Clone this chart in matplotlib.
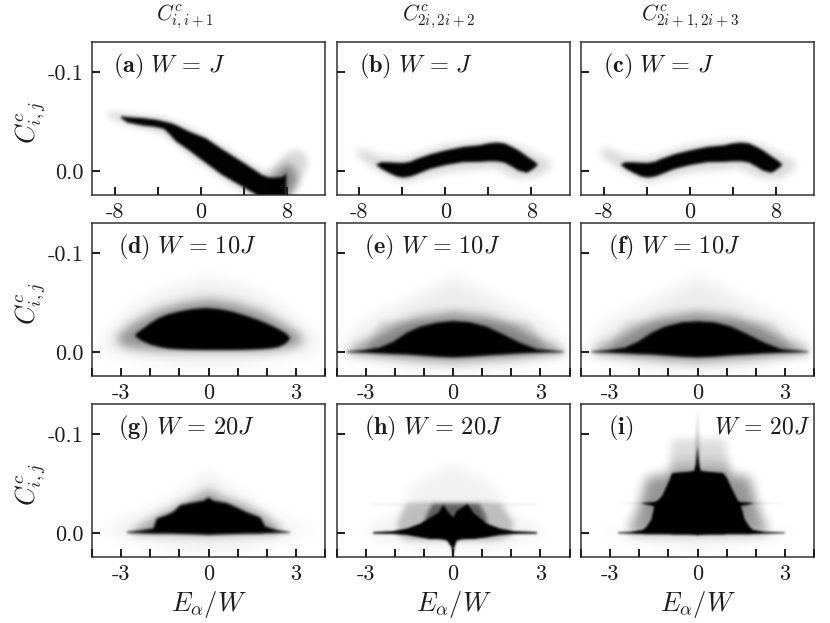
import numpy as np
import matplotlib
matplotlib.use('Agg')
import matplotlib.pyplot as plt
from matplotlib.patches import Rectangle

plt.rcParams['mathtext.fontset'] = 'cm'
plt.rcParams['font.family'] = ['cmr10', 'DejaVu Sans']
plt.rcParams['axes.unicode_minus'] = False

# envelopes: energy, upper edge, lower edge of each cloud
a_core_x = [-7.4, -6.8, -5.4, -4.2, -3.4, -2.8, -2.3, -1.1, 0.5, 2.0, 3.6, 5.1, 5.7, 6.4, 7.0, 7.6, 7.95]
a_core_top = [-.0555, -.0545, -.0535, -.052, -.050, -.0485, -.0465, -.040, -.033, -.022, -.011, -.0005, .004, .0065, .0065, .006, .002]
a_core_bot = [-.0535, -.049, -.046, -.0445, -.0425, -.036, -.030, -.021, -.008, .004, .014, .0235, .03, .03, .03, .03, .03]
a_mid_x = [6.4, 7.0, 7.6, 8.0, 8.5, 8.9]
a_mid_top = [.006, .002, -.004, -.008, -.004, .002]
a_mid_bot = [.03, .03, .03, .03, .02, .012]
a_halo_x = [-8.6, -6.8, -3.6, -1.1, 2.0, 5.1, 6.2, 7.0, 8.0, 9.0, 9.9]
a_halo_top = [-.0597, -.058, -.0547, -.0446, -.026, -.0044, .0007, -.0077, -.0178, -.0228, -.0144]
a_halo_bot = [-.0547, -.0463, -.038, -.016, .0074, .03, .03, .03, .03, .0158, -.0044]

b_core_x = [-6.4, -5.9, -5.2, -4.5, -3.9, -3.2, -2.7, -1.4, 0.1, 1.7, 3.2, 4.0, 4.8, 5.5, 6.2, 6.8, 7.6, 8.2, 8.6]
b_core_top = [-.0068, -.009, -.0088, -.0084, -.0082, -.0095, -.012, -.0168, -.021, -.0245, -.026, -.028, -.0288, -.028, -.0245, -.021, -.0148, -.0105, -.0068]
b_core_bot = [-.0062, -.002, .002, .0055, .0066, .0055, .0035, -.0022, -.0062, -.009, -.0092, -.0098, -.0098, -.0085, -.0045, -.0005, .0018, -.0022, -.0062]
b_halo_x = [-8.2, -7.0, -6.1, -3.9, 0.1, 4.5, 6.7, 8.5, 9.8]
b_halo_top = [-.023, -.0196, -.0145, -.0128, -.0264, -.0314, -.0264, -.0162, -.0095]
b_halo_bot = [-.016, -.006, .0007, .0118, .0007, -.0037, .0074, .0057, -.0027]

c_core_x = [-6.4, -5.9, -5.2, -4.5, -3.9, -3.2, -2.7, -1.4, 0.1, 1.7, 3.2, 4.0, 4.8, 5.5, 6.2, 6.8, 7.6, 8.2, 8.6]
c_core_top = [-.0068, -.009, -.0088, -.0084, -.0082, -.0095, -.012, -.017, -.021, -.0245, -.026, -.028, -.0288, -.028, -.0245, -.021, -.0148, -.0105, -.0068]
c_core_bot = [-.0062, -.002, .002, .0055, .0066, .0055, .0035, -.0022, -.0062, -.009, -.0092, -.0098, -.0098, -.0085, -.0045, -.0005, .0018, -.0022, -.0062]
c_halo_x = [-8.2, -7.0, -6.1, -3.9, 0.1, 4.5, 6.7, 8.5, 9.8]
c_halo_top = [-.024, -.0206, -.0145, -.0128, -.0264, -.0314, -.0264, -.0162, -.0095]
c_halo_bot = [-.015, -.006, .0007, .0118, .0007, -.0037, .0074, .0074, -.0027]

d_core_x = [-2.5, -2.3, -2.0, -1.73, -1.4, -1.04, -.6, -.13, .35, .79, 1.25, 1.71, 2.1, 2.4, 2.62, 2.78]
d_core_top = [-.0182, -.0225, -.029, -.034, -.038, -.0407, -.0432, -.0445, -.0435, -.041, -.037, -.0323, -.0275, -.0232, -.0195, -.0155]
d_core_bot = [-.0155, -.0115, -.0075, -.0054, -.0035, -.0027, -.0022, -.002, -.002, -.002, -.0022, -.0027, -.0035, -.005, -.008, -.0125]
d_mid_x = [-3.1, -2.6, -1.73, -.81, 0, .91, 1.82, 2.63, 3.2]
d_mid_top = [-.017, -.029, -.0424, -.0498, -.0532, -.0492, -.0407, -.0273, -.0165]
d_mid_bot = [-.0085, -.0035, -.0013, -.0013, -.0013, -.0013, -.0013, -.0035, -.0085]
d_halo_x = [-3.68, -2.88, -1.96, -.93, 0, 1.02, 2.05, 3.08, 3.77]
d_halo_top = [-.0104, -.0374, -.0559, -.0677, -.0727, -.0677, -.0542, -.0323, -.0121]
d_halo_bot = [.0, .003, .008, .012, .013, .012, .008, .003, .0]

e_core_x = [-3.65, -3.08, -2.5, -2.05, -1.59, -1.13, -.56, 0, .58, 1.16, 1.73, 2.3, 2.88, 3.8]
e_core_top = [-.0007, -.002, -.0047, -.0104, -.0195, -.0256, -.0296, -.0313, -.03, -.0256, -.0178, -.0094, -.003, -.0007]
e_core_bot = [.0003, .0007, .0013, .002, .0024, .0034, .0047, .0054, .0047, .0034, .0024, .0013, .0007, .0003]
e_mid_x = [-3.54, -2.74, -1.94, -1.25, 0, 1.27, 2.19, 2.99, 3.79]
e_mid_top = [-.0037, -.0138, -.0273, -.035, -.0407, -.0357, -.0256, -.0121, -.0027]
e_mid_bot = [.0013, .003, .0054, .0074, .0098, .0074, .0054, .003, .0013]
e_band_x = [-2.9, -2.5, 2.6, 3.1]
e_band_top = [-.01, -.031, -.031, -.01]
e_band_bot = [.002, .004, .004, .002]
e_halo_x = [-3.88, -3.08, -1.94, -1.02, 0, 1.04, 1.96, 3.1, 3.96]
e_halo_top = [-.002, -.0306, -.0458, -.0593, -.0761, -.0609, -.0458, -.0306, -.002]
e_halo_bot = [.0013, .0064, .0148, .0182, .0189, .0182, .0148, .0064, .0013]

f_core_x = [-3.65, -3.08, -2.5, -2.05, -1.59, -1.13, -.56, 0, .58, 1.16, 1.73, 2.3, 2.88, 3.8]
f_core_top = [-.0007, -.002, -.0044, -.0104, -.0192, -.0256, -.0299, -.031, -.03, -.0256, -.0178, -.0094, -.003, -.0007]
f_core_bot = [.0003, .0007, .0013, .002, .0024, .0034, .0047, .0054, .0047, .0034, .0024, .0013, .0007, .0003]
f_mid_x = [-3.54, -2.74, -1.94, -1.25, 0, 1.27, 2.19, 2.99, 3.79]
f_mid_top = [-.0037, -.0138, -.0273, -.035, -.0407, -.0357, -.0256, -.0121, -.0027]
f_mid_bot = [.0013, .003, .0054, .0074, .0098, .0074, .0054, .003, .0013]
f_band_x = [-2.9, -2.5, 2.6, 3.1]
f_band_top = [-.01, -.031, -.031, -.01]
f_band_bot = [.002, .004, .004, .002]
f_halo_x = [-3.88, -3.08, -1.94, -1.02, 0, 1.04, 1.96, 3.1, 3.96]
f_halo_top = [-.002, -.0306, -.0458, -.0593, -.0761, -.0609, -.0458, -.0306, -.002]
f_halo_bot = [.0013, .0064, .0148, .0182, .0189, .0182, .0148, .0064, .0013]

g_core_x = [-2.8, -2.35, -1.89, -1.78, -1.5, -1.2, -.97, -.52, -.17, 0, .17, .63, .97, 1.32, 1.78, 1.95, 2.35, 2.8]
g_core_top = [-.0013, -.0027, -.0047, -.0148, -.0175, -.0215, -.0283, -.031, -.0327, -.036, -.0327, -.0303, -.0259, -.0209, -.0158, -.0067, -.003, -.001]
g_core_bot = [.0, .0003, .0007, .0007, .0007, .0007, .001, .0013, .0017, .002, .0017, .0013, .001, .0007, .0007, .0003, .0, .0]
g_mid_x = [-2.58, -1.78, -1.09, -.52, 0, .52, 1.2, 1.89, 2.46]
g_mid_top = [-.004, -.0175, -.0276, -.036, -.0444, -.036, -.0293, -.0192, -.0057]
g_mid_bot = [.0007, .0013, .0017, .002, .0027, .002, .0017, .0013, .0007]
g_halo_x = [-3.72, -2.92, -1.78, -.97, -.4, 0, .4, 1.09, 1.89, 2.81, 3.72]
g_halo_top = [-.0013, -.0125, -.0242, -.0394, -.0512, -.063, -.0512, -.0394, -.0226, -.0091, -.0013]
g_halo_bot = [.0007, .0027, .0094, .0145, .0168, .0178, .0168, .0145, .0094, .0027, .0007]

h_core_x = [-2.74, -2.05, -1.59, -1.13, -.79, -.5, -.33, -.2, -.05, 0, .05, .13, .3, .5, .7, 1.16, 1.62, 2.07, 2.88]
h_core_top = [-.001, -.002, -.0045, -.0095, -.0155, -.0205, -.0285, -.0225, -.0175, -.016, -.0175, -.0225, -.0255, -.0293, -.0205, -.0095, -.0045, -.002, -.001]
h_core_bot = [.0007, .001, .002, .0044, .0061, .0061, .0067, .0077, .0145, .0256, .0145, .0077, .0064, .0061, .0061, .0044, .002, .001, .0007]
h_mid_x = [-1.9, -1.6, -.9, 1.16, 1.65, 2.05]
h_mid_top = [-.012, -.0295, -.0305, -.0305, -.0295, -.012]
h_mid_bot = [.002, .007, .008, .008, .007, .002]
h_inner_x = [-.95, -.7, .9, 1.15]
h_inner_top = [-.016, -.0295, -.0295, -.016]
h_inner_bot = [.0, .0, .0, .0]
h_band_x = [-2.8, 2.9]
h_band_top = [-.0303, -.0303]
h_band_bot = [-.0275, -.0275]
h_halo_x = [-3.08, -1.8, -1.36, 0, 1.38, 1.95, 3.1]
h_halo_top = [-.004, -.02, -.05, -.07, -.05, -.02, -.004]
h_halo_bot = [.002, .012, .016, .016, .016, .012, .002]

i_core_x = [-2.73, -2.27, -1.87, -1.74, -1.58, -1.5, -1.47, -1.21, -.95, -.87, -.32, -.11, -.05, 0, .05, .11, .37, .88, 1.0, 1.19, 1.45, 1.52, 1.62, 1.78, 1.9, 2.31, 3.0]
i_core_top = [-.0007, -.0013, -.0034, -.0067, -.014, -.025, -.0293, -.0377, -.0545, -.0606, -.0619, -.0629, -.0714, -.0882, -.0714, -.0629, -.0619, -.0606, -.0562, -.0444, -.0293, -.025, -.014, -.0067, -.0034, -.0013, -.0007]
i_core_bot = [.0003, .0007, .001, .0013, .0013, .0013, .0013, .0013, .0013, .0017, .0017, .002, .002, .0027, .002, .002, .0017, .0017, .0013, .0013, .0013, .0013, .0013, .0013, .001, .0007, .0003]
i_wing_x = [-1.9, -1.4, 1.4, 1.9]
i_wing_top = [-.0303, -.0315, -.0315, -.0303]
i_wing_bot = [-.0298, -.0265, -.0265, -.0298]
i_tail_x = [-2.73, -1.85, 1.85, 3.0]
i_tail_top = [-.0302, -.0306, -.0306, -.0302]
i_tail_bot = [-.0299, -.0295, -.0295, -.0299]
i_mid_x = [-1.95, -1.75, -1.0, 1.05, 1.8, 2.0]
i_mid_top = [-.032, -.056, -.06, -.06, -.056, -.032]
i_mid_bot = [-.024, -.024, -.024, -.024, -.024, -.024]
i_side_x = [-2.35, -2.0, -1.5, 1.5, 2.05, 2.4]
i_side_top = [-.004, -.027, -.027, -.027, -.027, -.004]
i_side_bot = [.0, .0, .0, .0, .0, .0]
i_top_x = [-.95, -.88, .95, 1.1]
i_top_top = [-.062, -.095, -.095, -.062]
i_top_bot = [-.055, -.055, -.055, -.055]
i_near_x = [-.92, 1.08]
i_near_top = [-.074, -.074]
i_near_bot = [-.055, -.055]
i_spike_x = [-.07, 0, .07]
i_spike_top = [-.09, -.127, -.09]
i_spike_bot = [-.07, -.07, -.07]
i_halo_x = [-3.3, -1.4, 0, 1.4, 3.3]
i_halo_top = [-.002, -.002, -.002, -.002, -.002]
i_halo_bot = [.001, .012, .016, .012, .001]

panel_labels = ['(a)', '(b)', '(c)', '(d)', '(e)', '(f)', '(g)', '(h)', '(i)']
panel_w = ['J', 'J', 'J', '10J', '10J', '10J', '20J', '20J', '20J']
col_titles = [r'$C^c_{i,i+1}$', r'$C^c_{2i,2i+2}$', r'$C^c_{2i+1,2i+3}$']
row1_ticks = [-8, -4, 0, 4, 8]
row1_labels = ['-8', '', '0', '', '8']
other_ticks = [-4, -3, -2, -1, 0, 1, 2, 3, 4]
other_labels = ['', '-3', '', '', '0', '', '', '3', '']
y_ticks = [-0.1, 0.0]
y_labels = ['-0.1', '0.0']

# layers per panel, back to front: arrays, alpha, blur in pixels
HALO = (0.08, 6)
MID = (0.38, 3.5)
CORE = (1.0, 1.0)
layers = {
    0: [(a_halo_x, a_halo_top, a_halo_bot, .16, 2.5), (a_mid_x, a_mid_top, a_mid_bot, .38, 3), (a_core_x, a_core_top, a_core_bot) + CORE],
    1: [(b_halo_x, b_halo_top, b_halo_bot, .16, 3), (b_core_x, b_core_top, b_core_bot) + CORE],
    2: [(c_halo_x, c_halo_top, c_halo_bot, .16, 3), (c_core_x, c_core_top, c_core_bot) + CORE],
    3: [(d_halo_x, d_halo_top, d_halo_bot) + HALO, (d_mid_x, d_mid_top, d_mid_bot) + MID, (d_core_x, d_core_top, d_core_bot) + CORE],
    4: [(e_halo_x, e_halo_top, e_halo_bot) + HALO, (e_band_x, e_band_top, e_band_bot, .1, 2), (e_mid_x, e_mid_top, e_mid_bot) + MID, (e_core_x, e_core_top, e_core_bot) + CORE],
    5: [(f_halo_x, f_halo_top, f_halo_bot) + HALO, (f_band_x, f_band_top, f_band_bot, .08, 2), (f_mid_x, f_mid_top, f_mid_bot) + MID, (f_core_x, f_core_top, f_core_bot) + CORE],
    6: [(g_halo_x, g_halo_top, g_halo_bot) + HALO, (g_mid_x, g_mid_top, g_mid_bot, .3, 3), (g_core_x, g_core_top, g_core_bot) + CORE],
    7: [(h_halo_x, h_halo_top, h_halo_bot, .06, 5), (h_band_x, h_band_top, h_band_bot, .06, 1), (h_mid_x, h_mid_top, h_mid_bot, .22, 2),
        (h_inner_x, h_inner_top, h_inner_bot, .5, 1.5), (h_core_x, h_core_top, h_core_bot, 1.0, .8)],
    8: [(i_halo_x, i_halo_top, i_halo_bot, .06, 5), (i_top_x, i_top_top, i_top_bot, .14, 3), (i_near_x, i_near_top, i_near_bot, .16, 4),
        (i_spike_x, i_spike_top, i_spike_bot, .2, 1.2), (i_side_x, i_side_top, i_side_bot, .4, 4), (i_mid_x, i_mid_top, i_mid_bot, .42, 4),
        (i_tail_x, i_tail_top, i_tail_bot, .2, .8), (i_wing_x, i_wing_top, i_wing_bot, 1.0, .8), (i_core_x, i_core_top, i_core_bot, 1.0, .8)],
}

label_x = [21, 22, 22, 26, 27, 27, 26, 27, 27]
col_left = [92, 336.5, 581]
row_top = [42.3, 223.3, 404.3]
ax_w, ax_h = 233, 153
ink = '#1c1c1c'


def blur(sigma):
    # gaussian blur for one filled layer, so the clouds get soft edges
    def f(img, dpi):
        pad = int(3 * sigma) + 2
        out = np.pad(img, ((pad, pad), (pad, pad), (0, 0)))
        t = np.arange(-pad, pad + 1)
        k = np.exp(-0.5 * (t / sigma) ** 2)
        k = k / k.sum()
        alpha = out[:, :, 3]
        alpha = np.apply_along_axis(lambda m: np.convolve(m, k, mode='same'), 0, alpha)
        alpha = np.apply_along_axis(lambda m: np.convolve(m, k, mode='same'), 1, alpha)
        out[:, :, 3] = alpha
        out[:, :, :3] = 0
        return out, -pad, -pad
    return f


fig = plt.figure(figsize=(8.3, 6.23), dpi=100)

for n in range(9):
    row, col = n // 3, n % 3
    ax = fig.add_axes([col_left[col] / 830, 1 - (row_top[row] + ax_h) / 623, ax_w / 830, ax_h / 623])
    for lx, ltop, lbot, al, sig in layers[n]:
        fb = ax.fill_between(lx, ltop, lbot, facecolor='k', alpha=al, linewidth=0, clip_on=False, zorder=1)
        fb.set_agg_filter(blur(sig))
    # white strips hide what the blur pushes past the frame
    ax.add_patch(Rectangle((0, -0.1), 1, 0.1, transform=ax.transAxes, color='w', lw=0, clip_on=False, zorder=2.2))
    ax.add_patch(Rectangle((-0.02, -0.1), 0.02, 1.2, transform=ax.transAxes, color='w', lw=0, clip_on=False, zorder=2.2))
    ax.add_patch(Rectangle((1, -0.1), 0.02, 1.2, transform=ax.transAxes, color='w', lw=0, clip_on=False, zorder=2.2))
    ax.set_axisbelow(False)
    ax.set_ylim(0.0245, -0.13)
    if row == 0:
        ax.set_xlim(-10.1, 11.55)
        ax.set_xticks(row1_ticks)
        ax.set_xticklabels(row1_labels)
    else:
        ax.set_xlim(-4, 4)
        ax.set_xticks(other_ticks)
        ax.set_xticklabels(other_labels)
    ax.set_yticks(y_ticks)
    ax.set_yticklabels(y_labels if col == 0 else ['', ''])
    ax.tick_params(direction='in', length=6, width=1.4, color=ink, labelcolor=ink, labelsize=16, pad=6)
    ax.tick_params(axis='x', pad=5)
    for s in ax.spines.values():
        s.set_linewidth(1.1)
        s.set_color('#333333')
    if n == 8:
        ax.text(27 / ax_w, 0.84, r'$\mathbf{(i)}$', transform=ax.transAxes, fontsize=17.5, va='center', color=ink)
        ax.text(0.985, 0.85, r'$W\,=\,20J$', transform=ax.transAxes, fontsize=17, va='center', ha='right', color=ink)
    else:
        ax.text(label_x[n] / ax_w, 0.84, r'$\mathbf{%s}\ W\,=\,%s$' % (panel_labels[n], panel_w[n]),
                transform=ax.transAxes, fontsize=17.5, va='center', color=ink)
    if col == 0:
        fig.text(31 / 830, 1 - (row_top[row] + 80) / 623, r'$C^c_{i,j}$', rotation=90, fontsize=19, ha='center', va='center', color=ink)
    if row == 2:
        fig.text((col_left[col] + 117) / 830, 1 - 604 / 623, r'$E_\alpha/W$', fontsize=19, ha='center', va='center', color=ink)

for x, t in zip([185, 439, 690], col_titles):
    fig.text(x / 830, 1 - 17 / 623, t, fontsize=15.5, ha='center', va='center', color=ink)

plt.savefig('out.png', dpi=100)
